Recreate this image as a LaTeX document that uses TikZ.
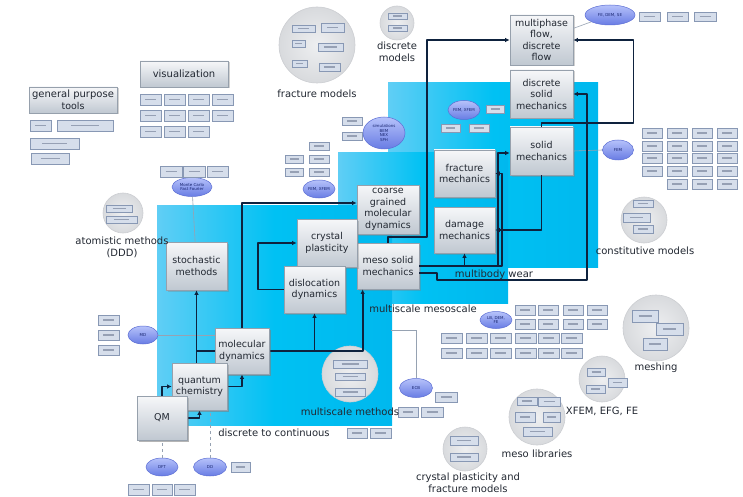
\documentclass[tikz,border=0pt]{standalone}
\usepackage{fontspec}
\setmainfont{DejaVu Sans}
\usetikzlibrary{shapes.geometric,shadows,arrows.meta,calc}

\definecolor{cyanL}{RGB}{96,206,245}
\definecolor{cyanM}{RGB}{0,193,243}
\definecolor{cyanD}{RGB}{0,184,238}
\definecolor{wire}{RGB}{14,34,62}
\definecolor{boxTop}{RGB}{246,247,249}
\definecolor{boxBot}{RGB}{192,200,209}
\definecolor{boxLine}{RGB}{150,160,172}
\definecolor{tagFill}{RGB}{214,222,235}
\definecolor{tagLine}{RGB}{136,152,180}
\definecolor{tagInk}{RGB}{150,160,180}
\definecolor{ovalTop}{RGB}{182,194,250}
\definecolor{ovalBot}{RGB}{104,124,228}
\definecolor{ovalLine}{RGB}{92,110,212}
\definecolor{ovalInk}{RGB}{24,36,110}
\definecolor{discIn}{RGB}{238,239,241}
\definecolor{discOut}{RGB}{216,218,221}
\definecolor{discLine}{RGB}{204,206,210}
\definecolor{ink}{RGB}{34,40,50}
\definecolor{annot}{RGB}{150,162,178}

\tikzset{
  x=1pt, y=-1pt,
  zone/.style={left color=cyanL, right color=cyanD, middle color=cyanM, draw=none},
  concept/.style={rectangle, draw=boxLine, line width=0.7pt, top color=boxTop,
    bottom color=boxBot, text=ink, font=\fontsize{9.5}{11.5}\selectfont,
    align=center, inner sep=1pt,
    drop shadow={opacity=0.35, shadow xshift=1.5pt, shadow yshift=-1.5pt}},
  tag/.style={rectangle, draw=tagLine, line width=0.5pt, fill=tagFill, inner sep=0pt,
    drop shadow={opacity=0.2, shadow xshift=0.8pt, shadow yshift=-0.8pt}},
  tagink/.style={draw=tagInk, line width=1.2pt},
  oval/.style={ellipse, draw=ovalLine, line width=0.5pt, top color=ovalTop,
    bottom color=ovalBot, inner sep=0pt, text=ovalInk, align=center,
    font=\fontsize{4}{4.6}\selectfont},
  disc/.style={circle, draw=discLine, line width=0.6pt, inner color=discIn,
    outer color=discOut, inner sep=0pt},
  caption/.style={text=ink, font=\fontsize{10}{12}\selectfont, align=center, inner sep=0pt},
  link/.style={draw=wire, line width=1.8pt, line join=round},
  arr/.style={link, -{Latex[length=4.5pt,width=4.5pt]}},
  note/.style={draw=annot, line width=0.6pt},
}

% concept box from corner (x1,y1) to (x2,y2)
\newcommand\conceptat[6]{%
  \node[concept, minimum width={#4-#2}, minimum height={#5-#3}] (#1)
    at ({(#2+#4)/2},{(#3+#5)/2}) {#6};}
% small tool tag from corner (x1,y1) to (x2,y2)
\newcommand\tagat[5]{%
  \node[tag, minimum width={#4-#2}, minimum height={#5-#3}] (#1)
    at ({(#2+#4)/2},{(#3+#5)/2}) {};
  \draw[tagink] ({#2+0.25*(#4-#2)},{(#3+#5)/2}) -- ({#4-0.25*(#4-#2)},{(#3+#5)/2});}
% method oval centred at (cx,cy)
\newcommand\ovalat[6]{%
  \node[oval, minimum width=#4, minimum height=#5] (#1) at (#2,#3) {#6};}
% grey library disc
\newcommand\discat[4]{%
  \node[disc, minimum size={2*#4}] (#1) at (#2,#3) {};}

\begin{document}
\begin{tikzpicture}
\useasboundingbox (0,0) rectangle (743,497);
\fill[white] (0,0) rectangle (743,497);

% ---- scale zones ----
\fill[zone] (388,83) rectangle (598,267);
\fill[zone] (338,153) rectangle (508,303);
\fill[zone] (157,205) rectangle (392,425);

% ---- library discs ----
\discat{fracdisc}{317}{45}{38}
\discat{discdisc}{397}{23}{17}
\discat{atomdisc}{123}{213}{20}
\discat{consdisc}{644}{220}{23}
\discat{meshdisc}{656}{328}{33}
\discat{xfemdisc}{602}{379}{23}
\discat{libdisc}{537}{417}{28}
\discat{cpfdisc}{465}{449}{22}
\discat{msmdisc}{350}{374}{28}

\coordinate (ecbend) at (391,330);

% ---- concept boxes (placed first so connectors can refer to them) ----
\conceptat{mpf}{510}{15}{573}{65}{multiphase\\flow,\\discrete\\flow}
\conceptat{dsm}{510}{70}{573}{118}{discrete\\solid\\mechanics}
\conceptat{sm}{510}{127}{573}{175}{solid\\mechanics}
\conceptat{fm}{434}{150}{495}{197}{fracture\\mechanics}
\conceptat{dm}{434}{207}{495}{253}{damage\\mechanics}
\conceptat{cg}{357}{185}{419}{234}{coarse\\grained\\molecular\\dynamics}
\conceptat{msm}{357}{243}{419}{289}{meso solid\\mechanics}
\conceptat{cp}{297}{219}{357}{267}{crystal\\plasticity}
\conceptat{dd}{284}{266}{345}{313}{dislocation\\dynamics}
\conceptat{stm}{166}{242}{227}{290}{stochastic\\methods}
\conceptat{md}{215}{328}{269}{374}{molecular\\dynamics}
\conceptat{qc}{172}{363}{227}{410}{quantum\\chemistry}
\conceptat{qm}{137}{396}{187}{440}{QM}
\conceptat{vis}{140}{61}{228}{87}{\fontsize{10}{12}\selectfont visualization}
\conceptat{gpt}{29}{87}{117}{113}{\fontsize{10}{12}\selectfont general purpose\\tools}

% ---- method ovals ----
\ovalat{mc}{192}{187}{40}{19}{Monte Carlo\\Fast Fourier}
\ovalat{mdo}{143}{335}{30}{18}{MD}
\ovalat{dft}{162}{467}{32}{18}{DFT}
\ovalat{ddo}{210}{467}{33}{18}{DD}
\ovalat{ecb}{416}{388}{33}{19}{ECB}
\ovalat{femo}{618}{150}{31}{20}{FEM}
\ovalat{topo}{610}{15}{50}{20}{FE, DEM, SE}
\ovalat{fxo}{319}{189}{32}{18}{FEM, XFEM}
\ovalat{rco}{464}{110}{32}{19}{FEM, XFEM}
\ovalat{pmo}{384}{133}{42}{32}{simulations\\BEM\\NEX\\SPH}
\ovalat{mso}{496}{320}{32}{17}{LB, DEM,\\FE}

% ---- thin annotation links ----
\draw[note] (mc) -- (stm);
\draw[note] (mdo.east) -- (md.west |- mdo.east);
\draw[note, dashed] (dft.north) -- (qm.south);
\draw[note, dashed] (ddo.north) -- (ddo.north |- qc.south);
\draw[note] (ecb.north) |- (ecbend);
\draw[note] (femo.west) -- (sm.east);
\draw[note] (topo) -- (mpf);

% ---- scale-bridging connectors ----
\draw[arr] (msm.north) |- (427,237) |- (mpf.west);
\draw[arr] (md.north) |- (cg.west |- 0,203);
\draw[arr] (qc.north -| stm.south) -- (stm.south);
\draw[link] (md.west) -- (md.west -| stm.south);
\draw[arr] (md.east) -| ([xshift=6pt]msm.south west);
\draw[arr] (dd.south |- md.east) -- (dd.south);
\draw[arr] (qc.east) -| (md.south);
\draw[arr] (qm.north) |- (qc.west);
\draw[arr] (qm.east) -| (qc.south);
\draw[arr] (dd.west) -- ++(-26,0) |- (cp.west);
\draw[arr] (msm.east) -| ([xshift=-12pt,yshift=-2pt]sm.west) -- ([yshift=-2pt]sm.west);
\draw[arr] ([xshift=-12pt]sm.west |- msm.east) -- ++(4,0) |- (fm.east);
\draw[arr] (dm.south |- msm.east) -- (dm.south);
\draw[arr] ([yshift=-7pt]msm.east) -- ++(18,0) -- ++(0,7) -| ([xshift=14pt]dsm.east) -- (dsm.east);
\draw[arr] (sm.north) -- ++(0,-4) -- ++(92,0) |- (mpf.east);
\draw[arr] (sm.south) |- (dm.east);

% boxes that sit on top of the connectors
\conceptat{md}{215}{328}{269}{374}{molecular\\dynamics}
\conceptat{qc}{172}{363}{227}{410}{quantum\\chemistry}
\conceptat{qm}{137}{396}{187}{440}{QM}

% ---- tool tags ----
\tagat{g1}{30}{120}{51}{131}
\tagat{g2}{57}{120}{113}{131}
\tagat{g3}{30}{138}{79}{149}
\tagat{g4}{31}{153}{69}{164}
\foreach \c/\x in {1/140,2/164,3/188,4/212}{
  \tagat{va\c}{\x}{94}{\x+21}{105}
  \tagat{vb\c}{\x}{110}{\x+21}{121}}
\foreach \c/\x in {1/140,2/164,3/188}{
  \tagat{vc\c}{\x}{126}{\x+21}{137}}
\tagat{s1}{160}{166}{182}{177}
\tagat{s2}{183}{166}{205}{177}
\tagat{s3}{207}{166}{228}{177}
\tagat{a1}{106}{205}{132}{212}
\tagat{a2}{106}{216}{137}{223}
\tagat{m1}{98}{315}{119}{325}
\tagat{m2}{98}{330}{119}{340}
\tagat{m3}{98}{345}{119}{355}
\tagat{f1}{292}{25}{315}{32}
\tagat{f2}{321}{23}{344}{32}
\tagat{f3}{292}{40}{305}{47}
\tagat{f4}{318}{43}{343}{51}
\tagat{f5}{292}{60}{307}{67}
\tagat{f6}{319}{63}{340}{71}
\tagat{d1}{388}{13}{407}{19}
\tagat{d2}{388}{25}{407}{31}
\tagat{e1}{285}{155}{303}{163}
\tagat{e2}{309}{142}{329}{150}
\tagat{e3}{309}{155}{329}{163}
\tagat{e4}{285}{168}{303}{176}
\tagat{e5}{309}{168}{329}{176}
\tagat{p1}{342}{117}{362}{125}
\tagat{p2}{342}{132}{362}{140}
\tagat{r1}{486}{105}{504}{113}
\tagat{r2}{441}{124}{460}{132}
\tagat{r3}{469}{124}{489}{132}
\tagat{q1}{639}{12}{660}{21}
\tagat{q2}{667}{12}{688}{21}
\tagat{q3}{694}{12}{716}{21}
\foreach \c/\x in {1/642,2/667,3/692,4/717}{
  \foreach \r/\y in {1/128,2/141,3/153,4/166}{
    \tagat{sg\r\c}{\x}{\y}{\x+20}{\y+10}}}
\foreach \c/\x in {2/667,3/692,4/717}{
  \tagat{sg5\c}{\x}{179}{\x+20}{189}}
\tagat{k1}{633}{200}{653}{207}
\tagat{k2}{623}{213}{650}{222}
\tagat{k3}{633}{225}{653}{233}
\foreach \c/\x in {1/515,2/538,3/563,4/587}{
  \tagat{ua\c}{\x}{305}{\x+20}{315}
  \tagat{ub\c}{\x}{319}{\x+20}{329}}
\foreach \c/\x in {1/441,2/466,3/490,4/515,5/538,6/561}{
  \tagat{la\c}{\x}{333}{\x+21}{343}
  \tagat{lb\c}{\x}{348}{\x+21}{358}}
\tagat{h1}{632}{310}{658}{322}
\tagat{h2}{656}{323}{683}{335}
\tagat{h3}{643}{338}{667}{350}
\tagat{x1}{587}{368}{605}{376}
\tagat{x2}{608}{378}{627}{387}
\tagat{x3}{586}{385}{605}{393}
\tagat{l1}{517}{397}{537}{405}
\tagat{l2}{538}{397}{560}{406}
\tagat{l3}{515}{412}{535}{422}
\tagat{l4}{543}{412}{560}{422}
\tagat{l5}{523}{427}{552}{436}
\tagat{c1}{450}{436}{478}{445}
\tagat{c2}{450}{453}{478}{461}
\tagat{u1}{333}{360}{367}{368}
\tagat{u2}{335}{373}{365}{380}
\tagat{u3}{335}{388}{365}{396}
\tagat{b1}{435}{392}{457}{402}
\tagat{b2}{398}{407}{418}{417}
\tagat{b3}{421}{407}{443}{417}
\tagat{b4}{347}{428}{367}{438}
\tagat{b5}{370}{428}{391}{438}
\tagat{z1}{231}{462}{250}{472}
\tagat{z2}{128}{484}{149}{495}
\tagat{z3}{152}{484}{172}{495}
\tagat{z4}{174}{484}{195}{495}

% ---- captions ----
\node[caption] (capfrac) at (317,94) {fracture models};
\node[caption] (capdisc) at (397,52) {discrete\\models};
\node[caption] (capatom) at (122,247) {atomistic methods\\(DDD)};
\node[caption] (capcons) at (645,251) {constitutive models};
\node[caption] (capmesh) at (656,368) {meshing};
\node[caption] (capxfem) at (602,411) {XFEM, EFG, FE};
\node[caption] (caplib) at (537,454) {meso libraries};
\node[caption] (capcpf) at (468,483) {crystal plasticity and\\fracture models};
\node[caption] (capmsm) at (350,412) {multiscale methods};
\node[caption] (capd2c) at (274,433) {discrete to continuous};
\node[caption] (capmeso) at (423,309) {multiscale mesoscale};
\node[caption] (capwear) at (494,275) {multibody wear};
\end{tikzpicture}
\end{document}
